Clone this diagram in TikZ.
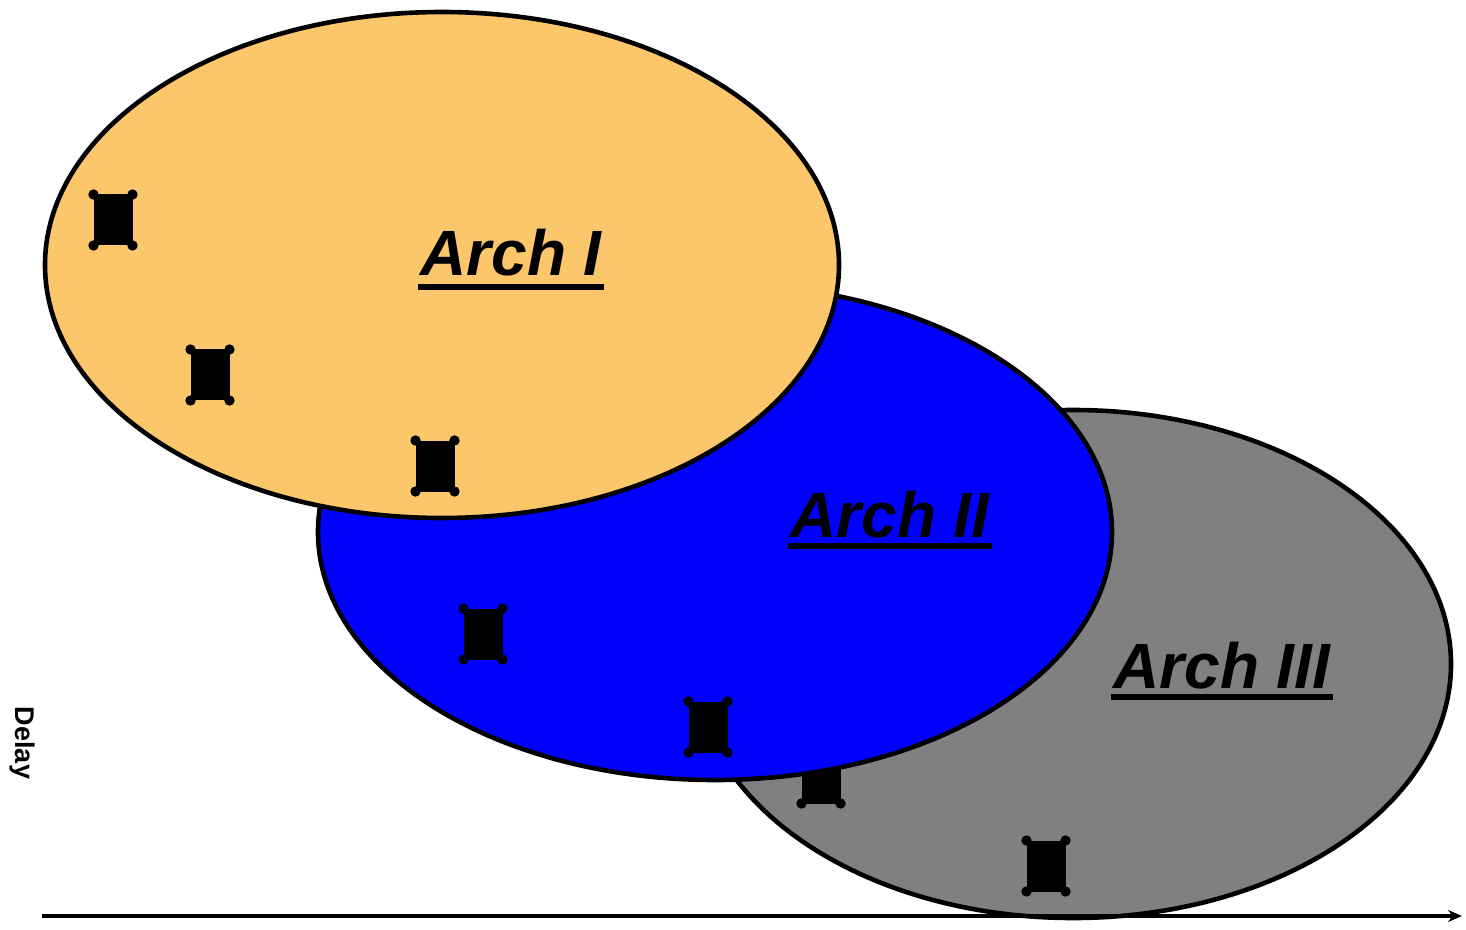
\documentclass[tikz,border=0pt]{standalone}
\usepackage{fontspec}
\setmainfont{Liberation Sans}
\usetikzlibrary{arrows.meta}

\definecolor{archorange}{RGB}{251,199,106}
\definecolor{archblue}{RGB}{0,0,255}
\definecolor{archgray}{RGB}{128,128,128}

\tikzset{
  archset/.style={draw=black, line width=2.3pt},
  archlabel/.style={anchor=base west, inner sep=0pt,
    font=\fontsize{32}{36}\selectfont\bfseries\itshape},
  underbar/.style={line width=2.6pt},
  marker/.style={rectangle, fill=black, inner sep=0pt, outer sep=0pt,
    minimum width=19.5pt, minimum height=25.5pt},
  axis/.style={line width=2.2pt, -{Stealth[length=7pt,width=6pt]}}
}

% a filled point with a round dot on each corner
\newcommand\placemarker[2]{%
  \node[marker] (#1) at (#2) {};
  \fill (#1.north west) circle[radius=2.6pt]
        (#1.north east) circle[radius=2.6pt]
        (#1.south west) circle[radius=2.6pt]
        (#1.south east) circle[radius=2.6pt];}

\begin{document}
\begin{tikzpicture}[x=0.5pt, y=-0.5pt]
\useasboundingbox (0,0) rectangle (1466,930);

% third set, with the points lying beneath the second set
\draw[archset, fill=archgray] (1073,664) ellipse [x radius=189pt, y radius=127pt];
\placemarker{m6}{821,778}
\placemarker{m7}{1046,866}

% second set
\draw[archset, fill=archblue] (715,532) ellipse [x radius=198.5pt, y radius=124pt];
\placemarker{m4}{483,634}
\placemarker{m5}{708,727}

% first set
\draw[archset, fill=archorange] (442,265) ellipse [x radius=198.5pt, y radius=126.5pt];
\placemarker{m1}{113,220}
\placemarker{m2}{210,375}
\placemarker{m3}{435,466}

% set labels with underlines
\node[archlabel] (l1) at (420,276) {Arch I};
\draw[underbar] ([xshift=-1pt,yshift=-5.5pt]l1.base west) -- ([xshift=1pt,yshift=-5.5pt]l1.base east);
\node[archlabel] (l2) at (790,537) {Arch II};
\draw[underbar] ([xshift=-1pt,yshift=-4.5pt]l2.base west) -- ([xshift=1pt,yshift=-4.5pt]l2.base east);
\node[archlabel] (l3) at (1113,688) {Arch III};
\draw[underbar] ([xshift=-1pt,yshift=-4.5pt]l3.base west) -- ([xshift=1pt,yshift=-4.5pt]l3.base east);

% horizontal axis and its label
\coordinate (ax0) at (42,916);
\coordinate (ax1) at (1462,916);
\draw[axis] (ax0) -- (ax1);
\node[rotate=-90, font=\fontsize{13.5}{15}\selectfont\bfseries] (delay) at (22,743) {Delay};
\end{tikzpicture}
\end{document}
